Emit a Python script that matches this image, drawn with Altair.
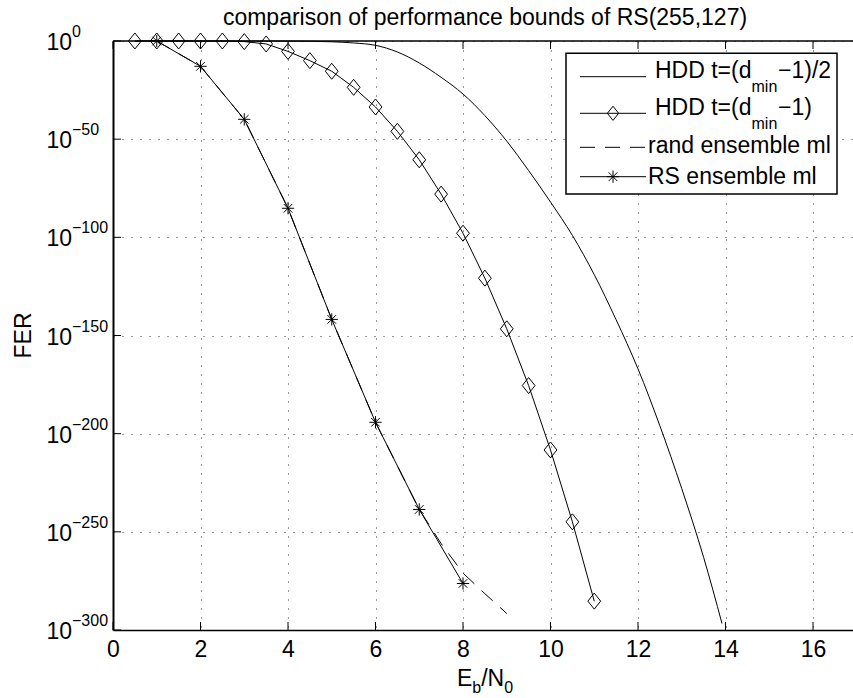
import altair as alt
import pandas as pd

# ---------------- data ----------------
title_text = "comparison of performance bounds of RS(255,127)"

# HDD t=(dmin-1)/2 : log10(FER)
hdd_half_x = [0.5, 4, 4.5, 5, 5.5, 6, 6.5, 7, 7.5, 8, 8.5, 9, 9.5, 10, 10.5, 11, 11.5, 12, 12.5, 13, 13.5, 13.92]
hdd_half_log10 = [0, -0.05, -0.15, -0.4, -1.0, -2.2, -5.6, -11.2, -18.5, -27, -38, -51, -66, -82, -99, -119, -142, -167, -196, -228, -263, -296.7]

# HDD t=(dmin-1) : log10(FER), diamonds
hdd_full_x = [0.5, 1, 1.5, 2, 2.5, 3, 3.5, 4, 4.5, 5, 5.5, 6, 6.5, 7, 7.5, 8, 8.5, 9, 9.5, 10, 10.5, 11]
hdd_full_log10 = [0, 0, 0, 0, 0, -0.3, -1.5, -5.3, -10, -15.4, -23.6, -33.6, -46, -60.5, -78, -97.9, -120.8, -146.6, -175.5, -208.3, -244.9, -285.3]

# rand ensemble ml : log10(FER), dashed
rand_x = [1, 2, 3, 4, 5, 6, 7, 7.5, 8, 8.5, 9]
rand_log10 = [0, -12.9, -39.9, -85.2, -141.8, -194.2, -238.6, -256, -271, -281.5, -291.6]

# RS ensemble ml : log10(FER), stars
rs_x = [1, 2, 3, 4, 5, 6, 7, 8]
rs_log10 = [0, -12.9, -39.9, -85.2, -141.8, -194.2, -238.6, -276.3]

x_ticks = [0, 2, 4, 6, 8, 10, 12, 14, 16]
y_ticks = [0, -50, -100, -150, -200, -250, -300]
y_tick_exponents = ["0", "\u221250", "\u2212100", "\u2212150", "\u2212200", "\u2212250", "\u2212300"]

legend_main = ["HDD t=(d", "HDD t=(d", "rand ensemble ml", "RS ensemble ml"]
legend_sub = ["min", "min", "", ""]
legend_tail = ["\u22121)/2", "\u22121)", "", ""]

# ---------------- layout / style ----------------
FONT = "Liberation Sans"
W, H = 740, 589
PX_PER_UNIT = 43.75
X_MAX = W / PX_PER_UNIT
FS = 23
FS_SMALL = 16
DIAMOND = "M0,-1L0.8,0L0,1L-0.8,0Z"
STAR = "M0,-1L0,1M-1,0L1,0M-0.7,-0.7L0.7,0.7M-0.7,0.7L0.7,-0.7"
DASH = [15, 10]

x_scale = alt.Scale(domain=[0, X_MAX], nice=False, zero=False)
y_scale = alt.Scale(domain=[-300, 0], nice=False, zero=False)

grid_style = dict(grid=True, gridColor="#333333", gridDash=[1, 8], gridWidth=1, ticks=False, title=None)
x_axis = alt.Axis(values=x_ticks, labels=True, labelFontSize=FS, labelFont=FONT, labelColor="black",
                  labelPadding=8, labelFlush=False, domainColor="black", domainWidth=1.5, **grid_style)
y_axis = alt.Axis(values=y_ticks, labels=False, domainColor="black", domainWidth=2, **grid_style)


def X(field):
    return alt.X(f"{field}:Q", scale=x_scale, axis=x_axis)


def Y(field):
    return alt.Y(f"{field}:Q", scale=y_scale, axis=y_axis)


one = pd.DataFrame({"a": [0]})


def txt(s, x, y, size, **kw):
    return alt.Chart(one).mark_text(text=s, fontSize=size, font=FONT, color="black",
                                    baseline="alphabetic", **kw).encode(x=alt.value(x), y=alt.value(y))


df_half = pd.DataFrame({"x": hdd_half_x, "y": hdd_half_log10})
df_full = pd.DataFrame({"x": hdd_full_x, "y": hdd_full_log10})
df_rand = pd.DataFrame({"x": rand_x, "y": rand_log10})
df_rs = pd.DataFrame({"x": rs_x, "y": rs_log10})
df_xt = pd.DataFrame({"t": x_ticks})
df_yt = pd.DataFrame({"v": y_ticks, "e": y_tick_exponents})

layers = []
# data curves
layers.append(alt.Chart(df_half).mark_line(color="black", strokeWidth=1, interpolate="monotone")
              .encode(x=X("x"), y=Y("y")))
layers.append(alt.Chart(df_rand).mark_line(color="black", strokeWidth=1, strokeDash=DASH)
              .encode(x=X("x"), y=Y("y")))
layers.append(alt.Chart(df_full).mark_line(color="black", strokeWidth=1)
              .encode(x=X("x"), y=Y("y")))
layers.append(alt.Chart(df_full).mark_point(shape=DIAMOND, size=256, filled=False, color="black",
                                            strokeWidth=1, opacity=1)
              .encode(x=X("x"), y=Y("y")))
layers.append(alt.Chart(df_rs).mark_line(color="black", strokeWidth=1)
              .encode(x=X("x"), y=Y("y")))
layers.append(alt.Chart(df_rs).mark_point(shape=STAR, size=150, filled=False, color="black",
                                          strokeWidth=1, opacity=1)
              .encode(x=X("x"), y=Y("y")))

# inward ticks and top border
layers.append(alt.Chart(df_xt).mark_rule(color="black", strokeWidth=1)
              .encode(x=X("t"), y=alt.value(H), y2=alt.value(H - 8)))
layers.append(alt.Chart(df_xt).mark_rule(color="black", strokeWidth=1)
              .encode(x=X("t"), y=alt.value(0), y2=alt.value(8)))
layers.append(alt.Chart(df_yt).mark_rule(color="black", strokeWidth=1)
              .encode(y=Y("v"), x=alt.value(0), x2=alt.value(8)))
layers.append(alt.Chart(one).mark_rule(color="black", strokeWidth=1.5)
              .encode(x=alt.value(0), x2=alt.value(W), y=alt.value(0)))

# y tick labels 10^k
layers.append(alt.Chart(df_yt).mark_text(text="10", align="right", baseline="alphabetic", fontSize=FS,
                                         font=FONT, color="black", dy=9)
              .encode(x=alt.value(-41), y=Y("v")))
layers.append(alt.Chart(df_yt).mark_text(align="left", baseline="alphabetic", fontSize=FS_SMALL,
                                         font=FONT, color="black", dy=-4, dx=0)
              .encode(x=alt.value(-41), y=Y("v"), text="e:N"))

# legend
LB_X0, LB_X1, LB_Y0, LB_Y1 = 453, 724, 12.3, 153
layers.append(alt.Chart(one).mark_rect(fill="white", stroke="black", strokeWidth=1.5)
              .encode(x=alt.value(LB_X0), x2=alt.value(LB_X1), y=alt.value(LB_Y0), y2=alt.value(LB_Y1)))
row_line_y = [35.7, 72.3, 106.3, 135.7]
row_text_y = [36.7, 74, 112.3, 143]
row_text_x = [542, 542, 535, 535]
LINE_X0, LINE_X1, MARK_X = 467, 533, 500
SUB_X, TAIL_X = 638.5, 665
for i in range(4):
    dash = DASH if i == 2 else [1, 0]
    layers.append(alt.Chart(one).mark_rule(color="black", strokeWidth=1, strokeDash=dash)
                  .encode(x=alt.value(LINE_X0), x2=alt.value(LINE_X1), y=alt.value(row_line_y[i])))
    layers.append(txt(legend_main[i], row_text_x[i], row_text_y[i], FS, align="left"))
    if legend_sub[i]:
        layers.append(txt(legend_sub[i], SUB_X, row_text_y[i] + 14, FS_SMALL, align="left"))
        layers.append(txt(legend_tail[i], TAIL_X, row_text_y[i], FS, align="left"))
layers.append(alt.Chart(one).mark_point(shape=DIAMOND, size=200, filled=False, color="black",
                                        strokeWidth=1, opacity=1)
              .encode(x=alt.value(MARK_X), y=alt.value(row_line_y[1])))
layers.append(alt.Chart(one).mark_point(shape=STAR, size=150, filled=False, color="black",
                                        strokeWidth=1, opacity=1)
              .encode(x=alt.value(MARK_X), y=alt.value(row_line_y[3])))

# titles
CX = 372
layers.append(txt(title_text, CX, -16, FS, align="center"))
layers.append(txt("FER", -81.6, H / 2, FS, align="center", angle=270))
layers.append(txt("E", 344, H + 56, FS, align="left"))
layers.append(txt("b", 359.3, H + 63, FS_SMALL, align="left"))
layers.append(txt("/N", 368.2, H + 56, FS, align="left"))
layers.append(txt("0", 391.2, H + 63, FS_SMALL, align="left"))

chart = alt.layer(*layers).properties(
    width=W, height=H,
    padding={"left": 113, "top": 41, "right": 0, "bottom": 68},
    autosize=alt.AutoSizeParams(type="none"),
    background="white",
).configure_view(strokeWidth=0)

chart.save("out.html", embed_options={"renderer": "svg", "actions": False})
